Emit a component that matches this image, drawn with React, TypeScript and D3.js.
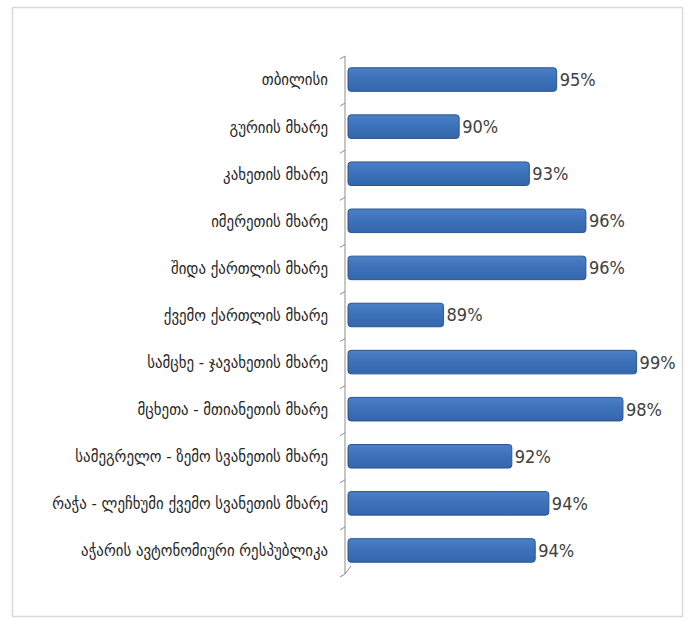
import React from "react";
import * as d3 from "d3";

const categories = [
  "თბილისი",
  "გურიის მხარე",
  "კახეთის მხარე",
  "იმერეთის მხარე",
  "შიდა ქართლის მხარე",
  "ქვემო ქართლის მხარე",
  "სამცხე - ჯავახეთის მხარე",
  "მცხეთა - მთიანეთის მხარე",
  "სამეგრელო - ზემო სვანეთის მხარე",
  "რაჭა - ლეჩხუმი ქვემო სვანეთის მხარე",
  "აჭარის ავტონომიური რესპუბლიკა",
];
const values = [94.7, 89.7, 93.3, 96.2, 96.2, 88.9, 98.8, 98.1, 92.4, 94.3, 93.6];
const labels = ["95%", "90%", "93%", "96%", "96%", "89%", "99%", "98%", "92%", "94%", "94%"];

const W = 697;
const H = 619;

export default function App() {
  const x = d3.scaleLinear().domain([84, 100]).range([348, 660]);
  const y = d3.scaleBand().domain(categories).range([56, 574]).paddingInner(0.5).paddingOuter(0.25);
  const axisX = 345;
  const boundaries = d3.range(categories.length + 1).map((i) => 56 + (i * (574 - 56)) / categories.length);
  return (
    <svg width={W} height={H} style={{ position: "absolute", left: 0, top: 0, background: "#fff" }}>
      <defs>
        <linearGradient id="bg" x1="0" y1="0" x2="0" y2="1">
          <stop offset="0" stopColor="#4a80c6" />
          <stop offset="0.5" stopColor="#3c71b9" />
          <stop offset="1" stopColor="#3466ab" />
        </linearGradient>
      </defs>
      <rect x={12.5} y={7.5} width={670} height={609} fill="#fff" stroke="#d9d9d9" strokeWidth={1.5} />
      {/* axis */}
      <line x1={axisX} x2={axisX} y1={boundaries[0]} y2={boundaries[boundaries.length - 1]} stroke="#8c8c8c" strokeWidth={1} />
      <line x1={axisX} x2={axisX + 6} y1={boundaries[boundaries.length - 1]} y2={boundaries[boundaries.length - 1] - 8} stroke="#8c8c8c" strokeWidth={1} />
      {boundaries.map((b, i) => (
        <line key={i} x1={axisX} x2={axisX - 5} y1={b} y2={b + 3} stroke="#8c8c8c" strokeWidth={1} />
      ))}
      {categories.map((c, i) => {
        const yy = y(c)!;
        const bw = y.bandwidth();
        const x1 = x(values[i]);
        return (
          <g key={c}>
            <rect x={348} y={yy} width={x1 - 348} height={bw} rx={3} fill="url(#bg)" stroke="#2b5590" strokeWidth={1} />
            <text
              x={x1 + 3}
              y={yy + bw / 2}
              dy="0.36em"
              fontFamily="'DejaVu Sans Condensed', 'Liberation Sans Narrow', sans-serif"
              fontSize={18}
              fill="#404040"
            >
              {labels[i]}
            </text>
            <text
              x={328}
              y={yy + bw / 2}
              dy="0.36em"
              textAnchor="end"
              fontFamily="'DejaVu Sans Condensed', 'DejaVu Sans', sans-serif"
              fontSize={16.5}
              fill="#262626"
            >
              {c}
            </text>
          </g>
        );
      })}
    </svg>
  );
}
